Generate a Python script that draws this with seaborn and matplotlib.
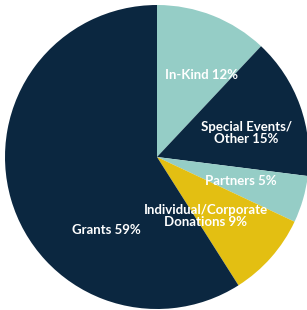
import matplotlib
matplotlib.use("Agg")
import matplotlib.pyplot as plt
import seaborn as sns

# 数据
labels = ["In-Kind 12%", "Special Events/\nOther 15%", "Partners 5%",
          "Individual/Corporate\nDonations 9%", "Grants 59%"]
shares = [12, 15, 5, 9, 59]
colors = ["#95cdc6", "#0b2740", "#95cdc6", "#e3bf12", "#0b2740"]

# 标签位置（以半径为单位）
label_pos = [(0.29, 0.54), (0.59, 0.16), (0.55, -0.16), (0.32, -0.39), (-0.33, -0.48)]

sns.set_theme(style="white")
plt.rcParams["font.family"] = ["Lato", "DejaVu Sans"]

fig = plt.figure(figsize=(3.07, 3.10), dpi=100)
ax = fig.add_axes([5 / 307, 1 / 310, 304 / 307, 304 / 310])

ax.pie(shares, colors=colors, startangle=90, counterclock=False,
       wedgeprops={"linewidth": 0})
for text, (x, y) in zip(labels, label_pos):
    ax.text(x, y, text, ha="center", va="center", color="white",
            fontsize=9.5, fontweight="bold", linespacing=1.0)

ax.set_xlim(-1, 1)
ax.set_ylim(-1, 1)
ax.set_aspect("equal")
ax.axis("off")

fig.savefig("out.png", dpi=100)
